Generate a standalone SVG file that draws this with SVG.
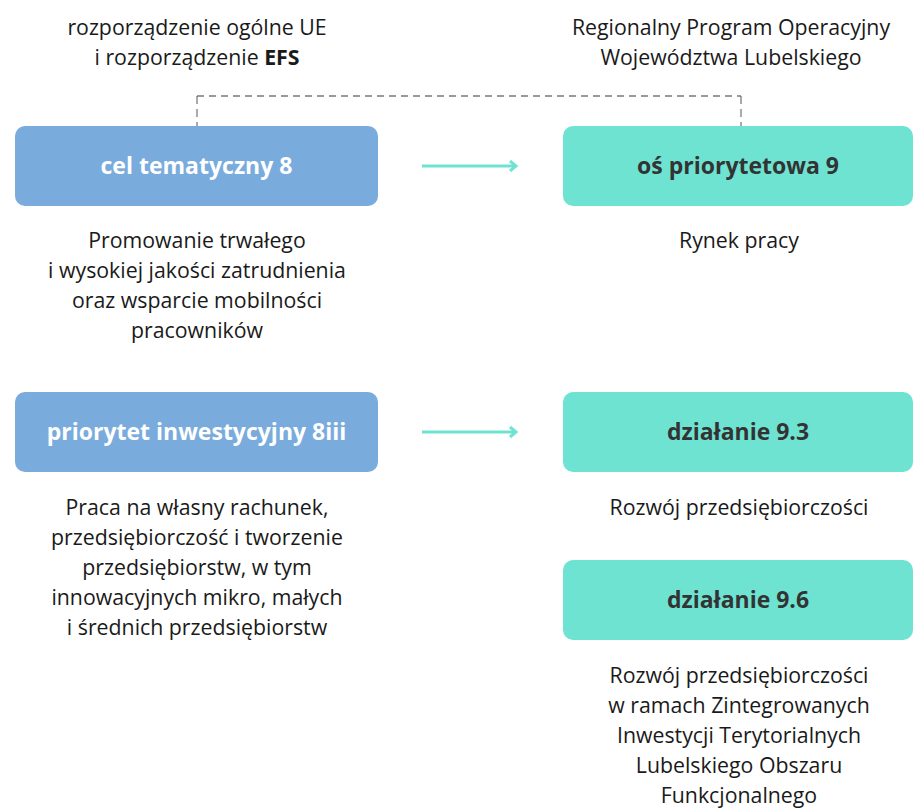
<svg xmlns="http://www.w3.org/2000/svg" width="913" height="809" viewBox="0 0 913 809">
<defs>
<style>
.t{font-family:"Open Sans","Noto Sans",sans-serif;font-size:21.3px;fill:#1a1a1a;text-anchor:middle}
.b{font-family:"Open Sans","Noto Sans",sans-serif;font-size:23px;font-weight:bold;text-anchor:middle}
.blue{fill:#79acdd}
.green{fill:#6ee3d1}
.wt{fill:#ffffff}
.dt{fill:#333333}
.arr{stroke:#6ee3d1;stroke-width:3;fill:none}
.dash{stroke:#9a9a9a;stroke-width:2;fill:none;stroke-dasharray:7 5}
.vdash{stroke:#555555;stroke-width:1;fill:none;stroke-dasharray:8 5}
</style>
<marker id="ah" viewBox="0 0 10 12" refX="8" refY="6" markerWidth="10" markerHeight="12" markerUnits="userSpaceOnUse" orient="auto">
<path d="M2,1 L8,6 L2,11" fill="none" stroke="#6ee3d1" stroke-width="3"/>
</marker>
</defs>
<rect width="913" height="809" fill="#ffffff"/>

<g id="header-left">
<text class="t" x="197" y="35">rozporządzenie ogólne UE</text>
<text class="t" x="197" y="65">i rozporządzenie <tspan font-weight="bold">EFS</tspan></text>
</g>
<g id="header-right">
<text class="t" x="731" y="35">Regionalny Program Operacyjny</text>
<text class="t" x="731" y="65">Województwa Lubelskiego</text>
</g>

<g id="connectors">
<path class="dash" d="M197,96 H741"/>
<path class="vdash" d="M197,96 V126 M741,96 V126"/>
<path class="arr" d="M422,166 H516" marker-end="url(#ah)"/>
<path class="arr" d="M422,432 H516" marker-end="url(#ah)"/>
</g>

<g id="cel-tematyczny-8">
<rect class="blue" x="15" y="126" width="363" height="80" rx="10"/>
<text class="b wt" x="196.5" y="174">cel tematyczny 8</text>
<text class="t" x="197" y="248">Promowanie trwałego</text>
<text class="t" x="197" y="278">i wysokiej jakości zatrudnienia</text>
<text class="t" x="197" y="308">oraz wsparcie mobilności</text>
<text class="t" x="197" y="338">pracowników</text>
</g>

<g id="os-priorytetowa-9">
<rect class="green" x="563" y="126" width="350" height="80" rx="10"/>
<text class="b dt" x="738" y="174">oś priorytetowa 9</text>
<text class="t" x="739" y="248">Rynek pracy</text>
</g>

<g id="priorytet-8iii">
<rect class="blue" x="15" y="392" width="363" height="80" rx="10"/>
<text class="b wt" x="196.5" y="440">priorytet inwestycyjny 8iii</text>
<text class="t" x="197" y="515">Praca na własny rachunek,</text>
<text class="t" x="197" y="545">przedsiębiorczość i tworzenie</text>
<text class="t" x="197" y="575">przedsiębiorstw, w tym</text>
<text class="t" x="197" y="605">innowacyjnych mikro, małych</text>
<text class="t" x="197" y="635">i średnich przedsiębiorstw</text>
</g>

<g id="dzialanie-9-3">
<rect class="green" x="563" y="392" width="350" height="80" rx="10"/>
<text class="b dt" x="738" y="440">działanie 9.3</text>
<text class="t" x="739" y="515">Rozwój przedsiębiorczości</text>
</g>

<g id="dzialanie-9-6">
<rect class="green" x="563" y="560" width="350" height="80" rx="10"/>
<text class="b dt" x="738" y="608">działanie 9.6</text>
<text class="t" x="739" y="683">Rozwój przedsiębiorczości</text>
<text class="t" x="739" y="713">w ramach Zintegrowanych</text>
<text class="t" x="739" y="743">Inwestycji Terytorialnych</text>
<text class="t" x="739" y="773">Lubelskiego Obszaru</text>
<text class="t" x="739" y="803">Funkcjonalnego</text>
</g>
</svg>
